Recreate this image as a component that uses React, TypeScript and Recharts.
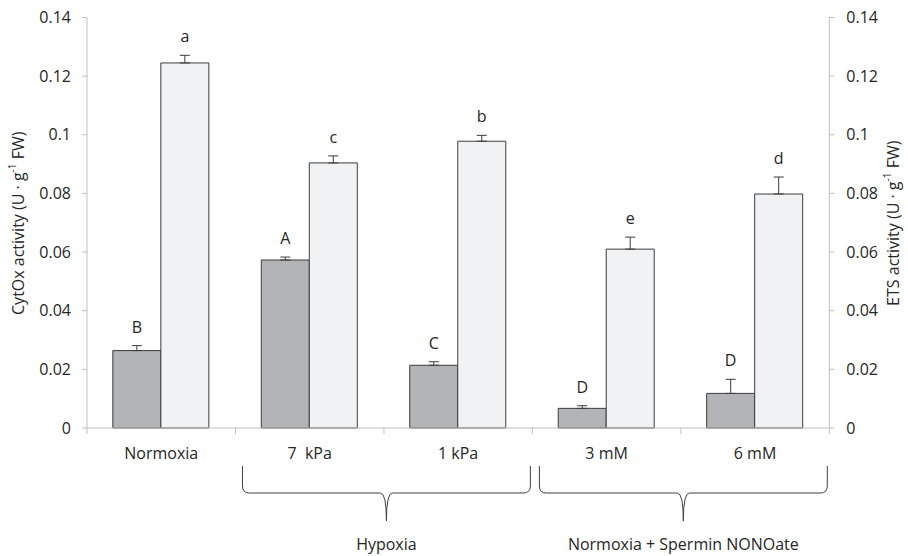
import React from 'react';
import { BarChart, Bar, XAxis, YAxis, ErrorBar, LabelList } from 'recharts';

const categories = ['Normoxia', '7\u00a0 kPa', '1 kPa', '3 mM', '6 mM'];
const cytOx = [0.0264, 0.0573, 0.0214, 0.0067, 0.0118];
const cytOxErr = [0.0017, 0.001, 0.0012, 0.0009, 0.0048];
const ets = [0.1245, 0.0904, 0.0978, 0.061, 0.0798];
const etsErr = [0.0026, 0.0024, 0.002, 0.0041, 0.0058];
const cytOxLetters = ['B', 'A', 'C', 'D', 'D'];
const etsLetters = ['a', 'c', 'b', 'e', 'd'];
const yTicks = [0, 0.02, 0.04, 0.06, 0.08, 0.1, 0.12, 0.14];
const groupLabels = ['Hypoxia', 'Normoxia + Spermin NONOate'];
const groupStart = [1, 3];
const groupEnd = [2, 4];

const data = categories.map((c, i) => ({
  name: c,
  cytOx: cytOx[i],
  cytOxErr: [0, cytOxErr[i]],
  cytOxLetter: cytOxLetters[i],
  ets: ets[i],
  etsErr: [0, etsErr[i]],
  etsLetter: etsLetters[i],
}));

const W = 908;
const H = 556;
const PLOT_LEFT = 87;
const PLOT_RIGHT = 829.3;
const PLOT_TOP = 17.5;
const PLOT_BOTTOM = 428;
const PLOT_H = PLOT_BOTTOM - PLOT_TOP;
const Y_MAX = 0.14;
const BAND = (PLOT_RIGHT - PLOT_LEFT) / categories.length;
const AXIS_W = 60;

const TEXT = '#262626';
const AXIS = '#bfbfbf';
const EDGE = '#3c3c3c';

const makeLetter = (errs: number[]) => (props: any) => {
  const { x, y, width, value, index } = props;
  const errPx = (errs[index] / Y_MAX) * PLOT_H;
  return (
    <text x={x + width / 2} y={y - errPx - 13} textAnchor="middle" fontSize={16} fill={TEXT}>
      {value}
    </text>
  );
};

const XTick = (props: any) => {
  const { x, payload, index } = props;
  const left = x - BAND / 2;
  const right = x + BAND / 2;
  const g = groupStart.indexOf(index);
  let brace: React.ReactNode = null;
  if (g >= 0) {
    const span = groupEnd[g] - groupStart[g] + 1;
    const xL = left + 7;
    const xR = left + BAND * span - 2;
    const xm = (xL + xR) / 2;
    const y0 = 466;
    const y1 = 493;
    const y2 = 521;
    const d = `M${xL},${y0} L${xL},${y1 - 7} Q${xL},${y1} ${xL + 7},${y1} L${xm - 6},${y1} Q${xm},${y1} ${xm},${y2} Q${xm},${y1} ${xm + 6},${y1} L${xR - 7},${y1} Q${xR},${y1} ${xR},${y1 - 7} L${xR},${y0}`;
    brace = (
      <g>
        <path d={d} fill="none" stroke="#404040" strokeWidth={1} />
        <text x={xm} y={550} textAnchor="middle" fontSize={16} fill={TEXT}>
          {groupLabels[g]}
        </text>
      </g>
    );
  }
  return (
    <g>
      <line x1={left} y1={PLOT_BOTTOM} x2={left} y2={PLOT_BOTTOM + 6} stroke={AXIS} />
      {index === categories.length - 1 && (
        <line x1={right} y1={PLOT_BOTTOM} x2={right} y2={PLOT_BOTTOM + 6} stroke={AXIS} />
      )}
      <text x={x} y={459} textAnchor="middle" fontSize={16} fill={TEXT} style={{ whiteSpace: 'pre' }}>
        {payload.value}
      </text>
      {brace}
    </g>
  );
};

const AxisTitle = ({ cx, text }: { cx: number; text: string }) => {
  const cy = (PLOT_TOP + PLOT_BOTTOM) / 2 + 0.5;
  return (
    <text
      x={cx}
      y={cy}
      textAnchor="middle"
      dominantBaseline="central"
      fontSize={16}
      fill={TEXT}
      transform={`rotate(-90, ${cx}, ${cy})`}
    >
      <tspan>{text} (U · g</tspan>
      <tspan dy={-6} fontSize={10}>-1</tspan>
      <tspan dy={6}> FW)</tspan>
    </text>
  );
};

export default function App() {
  return (
    <div style={{ position: 'absolute', left: 0, top: 0, width: W, height: H, background: '#fff', fontFamily: '"Open Sans", sans-serif' }}>
      <BarChart
        width={W}
        height={H}
        data={data}
        margin={{ top: PLOT_TOP, right: W - PLOT_RIGHT - AXIS_W, bottom: H - PLOT_BOTTOM - 30, left: PLOT_LEFT - AXIS_W }}
        barGap={0}
        barCategoryGap="17.4%"
      >
        <XAxis
          dataKey="name"
          interval={0}
          height={30}
          axisLine={{ stroke: AXIS }}
          tickLine={false}
          tick={<XTick />}
        />
        <YAxis
          yAxisId="left"
          width={AXIS_W}
          domain={[0, Y_MAX]}
          ticks={yTicks}
          interval={0}
          axisLine={{ stroke: AXIS }}
          tickLine={{ stroke: AXIS }}
          tickSize={5}
          tickMargin={11}
          tick={{ fill: TEXT, fontSize: 16 }}
          label={() => <AxisTitle cx={18} text="CytOx activity" />}
        />
        <YAxis
          yAxisId="right"
          orientation="right"
          width={AXIS_W}
          domain={[0, Y_MAX]}
          ticks={yTicks}
          interval={0}
          axisLine={{ stroke: AXIS }}
          tickLine={{ stroke: AXIS }}
          tickSize={5}
          tickMargin={12}
          tick={{ fill: TEXT, fontSize: 16, textAnchor: 'start' }}
          label={() => <AxisTitle cx={893} text="ETS activity" />}
        />
        <Bar yAxisId="left" dataKey="cytOx" fill="#b3b4b8" stroke={EDGE} strokeWidth={1} isAnimationActive={false}>
          <ErrorBar dataKey="cytOxErr" width={5} stroke={EDGE} strokeWidth={1} direction="y" />
          <LabelList dataKey="cytOxLetter" content={makeLetter(cytOxErr)} />
        </Bar>
        <Bar yAxisId="right" dataKey="ets" fill="#f1f2f4" stroke={EDGE} strokeWidth={1} isAnimationActive={false}>
          <ErrorBar dataKey="etsErr" width={5} stroke={EDGE} strokeWidth={1} direction="y" />
          <LabelList dataKey="etsLetter" content={makeLetter(etsErr)} />
        </Bar>
      </BarChart>
    </div>
  );
}
